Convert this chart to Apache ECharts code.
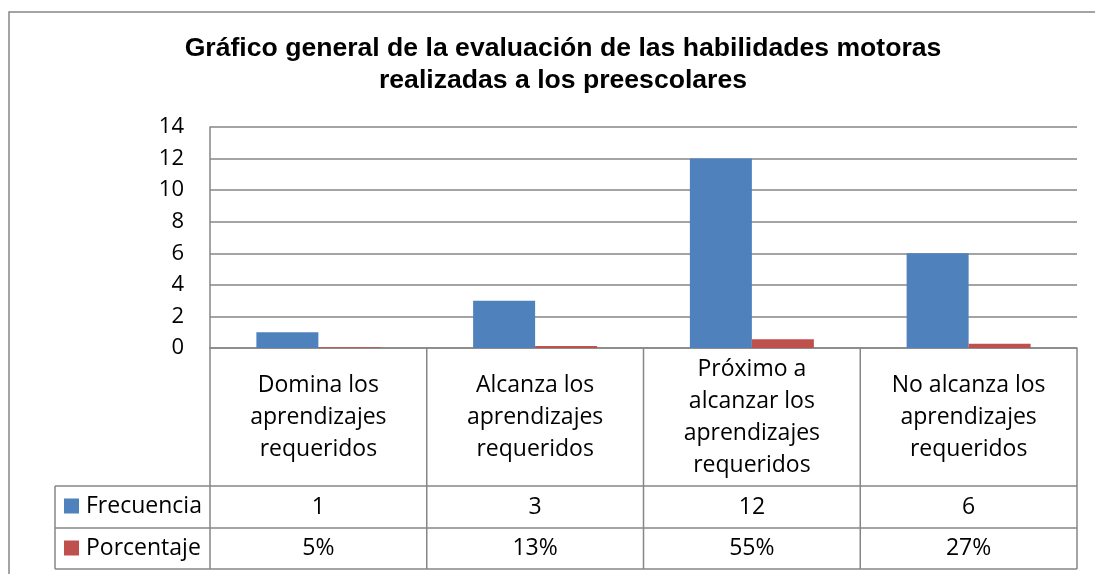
<!DOCTYPE html>
<html>
<head>
<meta charset="utf-8">
<script src="https://cdn.jsdelivr.net/npm/echarts@6/dist/echarts.min.js"></script>
<style>
  html, body { margin: 0; padding: 0; background: #fff; }
  #chart { width: 1095px; height: 574px; }
</style>
</head>
<body>
<div id="chart"></div>
<script>
// datos
const categorias = [
  'Domina los\naprendizajes\nrequeridos',
  'Alcanza los\naprendizajes\nrequeridos',
  'Próximo a\nalcanzar los\naprendizajes\nrequeridos',
  'No alcanza los\naprendizajes\nrequeridos'
]
const frecuencia = [1, 3, 12, 6]
const porcentaje = [0.05, 0.13, 0.55, 0.27]
const porcentajeTxt = ['5%', '13%', '55%', '27%']
const yTicks = [0, 2, 4, 6, 8, 10, 12, 14]

// layout (px)
const W = 1095, H = 574
const gLeft = 210, gRight = 1077, gTop = 127, gBottom = 348
const rowCat = 486, rowFreq = 528, rowPct = 569
const tableLeft = 55
const gris = '#868686'
const fuente = '"Open Sans", Lato, sans-serif'

const chart = echarts.init(document.getElementById('chart'))

// lineas de la tabla
const lineas = []
const cw = (gRight - gLeft) / categorias.length
for (let i = 0; i <= categorias.length; i++) {
  const x = gLeft + i * cw
  lineas.push({ type: 'line', shape: { x1: x, y1: gBottom, x2: x, y2: rowPct }, style: { stroke: gris, lineWidth: 1.5 } })
}
lineas.push({ type: 'line', shape: { x1: tableLeft, y1: rowCat, x2: gRight, y2: rowCat }, style: { stroke: gris, lineWidth: 1.5 } })
lineas.push({ type: 'line', shape: { x1: tableLeft, y1: rowFreq, x2: gRight, y2: rowFreq }, style: { stroke: gris, lineWidth: 1.5 } })
lineas.push({ type: 'line', shape: { x1: tableLeft, y1: rowPct, x2: gRight, y2: rowPct }, style: { stroke: gris, lineWidth: 1.5 } })
lineas.push({ type: 'line', shape: { x1: tableLeft, y1: rowCat, x2: tableLeft, y2: rowPct }, style: { stroke: gris, lineWidth: 1.5 } })
// borde del grafico
lineas.push({ type: 'polyline', shape: { points: [[9, H + 2], [9, 12], [W + 2, 12]] }, style: { stroke: gris, lineWidth: 1.5, fill: null } })

chart.setOption({
  animation: false,
  title: {
    text: 'Gráfico general de la evaluación de las habilidades motoras\nrealizadas a los preescolares',
    left: 558,
    top: 28,
    textAlign: 'center',
    textStyle: {
      fontFamily: '"Liberation Sans", Arial, sans-serif',
      fontWeight: 'bold',
      fontSize: 26.6,
      lineHeight: 32,
      color: '#000'
    }
  },
  legend: {
    orient: 'vertical',
    left: 64,
    top: 491,
    padding: 0,
    itemWidth: 15,
    itemHeight: 15,
    itemGap: 12,
    icon: 'rect',
    textStyle: { fontFamily: fuente, fontSize: 23, lineHeight: 27, color: '#000', padding: [3, 0, 0, 2] },
    data: ['Frecuencia', 'Porcentaje']
  },
  grid: {
    left: gLeft,
    right: W - gRight,
    top: gTop,
    bottom: H - gBottom,
    containLabel: false
  },
  xAxis: [{
    type: 'category',
    data: categorias,
    axisLine: { lineStyle: { color: gris, width: 1.5 } },
    axisTick: { show: false },
    axisLabel: {
      interval: 0,
      margin: 69,
      verticalAlign: 'middle',
      fontFamily: fuente,
      fontSize: 23,
      lineHeight: 32,
      color: '#000'
    }
  }, {
    type: 'category',
    data: frecuencia.map(String),
    position: 'bottom',
    offset: 159,
    axisLine: { show: false },
    axisTick: { show: false },
    axisLabel: { interval: 0, margin: 0, verticalAlign: 'middle', fontFamily: fuente, fontSize: 23, color: '#000' }
  }, {
    type: 'category',
    data: porcentajeTxt,
    position: 'bottom',
    offset: 200,
    axisLine: { show: false },
    axisTick: { show: false },
    axisLabel: { interval: 0, margin: 0, verticalAlign: 'middle', fontFamily: fuente, fontSize: 23, color: '#000' }
  }],
  yAxis: {
    type: 'value',
    min: yTicks[0],
    max: yTicks[yTicks.length - 1],
    interval: 2,
    axisLine: { show: true, lineStyle: { color: gris, width: 1.5 } },
    axisTick: { show: false },
    axisLabel: { margin: 26, fontFamily: fuente, fontSize: 22, color: '#000' },
    splitLine: { lineStyle: { color: gris, width: 1.5 } }
  },
  series: [{
    name: 'Frecuencia',
    type: 'bar',
    data: frecuencia,
    barWidth: 62,
    barGap: '0%',
    itemStyle: { color: '#4F81BD' }
  }, {
    name: 'Porcentaje',
    type: 'bar',
    data: porcentaje,
    barWidth: 62,
    itemStyle: { color: '#C0504D' }
  }],
  graphic: lineas
})
</script>
</body>
</html>
